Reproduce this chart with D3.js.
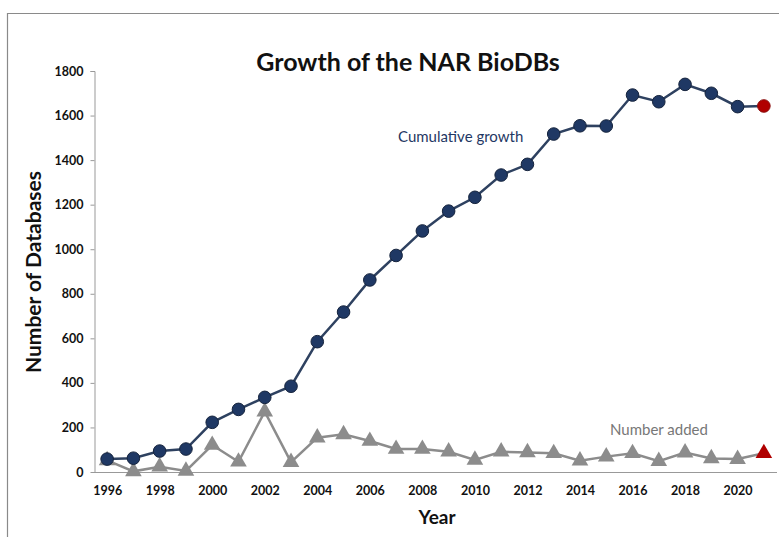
<!DOCTYPE html>
<html><head><meta charset="utf-8">
<script src="https://cdn.jsdelivr.net/npm/d3@7"></script>
<style>body{margin:0;background:#fff;} svg{display:block;}</style>
</head><body>
<svg id="c" width="779" height="537"></svg>
<script>
const years = [1996,1997,1998,1999,2000,2001,2002,2003,2004,2005,2006,2007,2008,2009,2010,2011,2012,2013,2014,2015,2016,2017,2018,2019,2020,2021];
const cumulative = [58,62,94,103,223,281,335,385,585,718,862,972,1082,1171,1233,1333,1381,1517,1554,1553,1692,1662,1740,1700,1640,1643];
const added = [52,3,24,5,121,46,271,44,154,169,139,103,103,91,54,91,88,84,51,69,84,49,87,61,58,84];
const yTicks = [0,200,400,600,800,1000,1200,1400,1600,1800];
const xTickYears = [1996,1998,2000,2002,2004,2006,2008,2010,2012,2014,2016,2018,2020];

const svg = d3.select('#c');
const navy = '#1f3864', gray = '#8c8c8c', red = '#b00000';
const font = 'Lato, "Open Sans", sans-serif';

// frame
svg.append('path').attr('d','M7.5,537 V13.5 H779').attr('fill','none').attr('stroke','#8a8a8a').attr('stroke-width',1.2);

const x = d3.scalePoint().domain(years).range([94,777]).padding(0.5);
const y = d3.scaleLinear().domain([0,1800]).range([472,71]);

// y axis
const ya = svg.append('g').attr('transform','translate(94.5,0)')
  .call(d3.axisLeft(y).tickValues(yTicks).tickSize(4).tickPadding(7).tickFormat(d3.format('d')));
ya.select('.domain').attr('stroke','#999').attr('d','M-4,71.5H0.5V472.5');
ya.selectAll('.tick line').attr('stroke','#999');
ya.selectAll('.tick text').attr('font-family',font).attr('font-weight','bold').attr('font-size',12.5).attr('fill','#111');

// x axis
const xa = svg.append('g').attr('transform','translate(0,472.5)')
  .call(d3.axisBottom(x).tickValues(xTickYears).tickSize(0).tickPadding(14));
xa.select('.domain').attr('stroke','#999').attr('d','M94,0H777');
xa.selectAll('.tick text').attr('font-family',font).attr('font-weight','bold').attr('font-size',12.5).attr('fill','#111');

// number added line
svg.append('path').datum(added)
  .attr('d', d3.line().x((d,i)=>x(years[i])).y(d=>y(d)))
  .attr('fill','none').attr('stroke',gray).attr('stroke-width',2.5);
svg.selectAll('.tri').data(added).enter().append('path')
  .attr('d', d3.symbol(d3.symbolTriangle, 120))
  .attr('transform',(d,i)=>`translate(${x(years[i])},${y(d)})`)
  .attr('fill',(d,i)=> i===years.length-1 ? red : gray);

// cumulative line
svg.append('path').datum(cumulative)
  .attr('d', d3.line().x((d,i)=>x(years[i])).y(d=>y(d)))
  .attr('fill','none').attr('stroke','#2e4160').attr('stroke-width',2.5);
svg.selectAll('.dot').data(cumulative).enter().append('circle')
  .attr('cx',(d,i)=>x(years[i])).attr('cy',d=>y(d)).attr('r',6.3)
  .attr('fill',(d,i)=> i===years.length-1 ? red : navy)
  .attr('stroke',(d,i)=> i===years.length-1 ? '#8a1010' : '#16243d').attr('stroke-width',1);

// labels
svg.append('text').attr('x',408).attr('y',71).attr('text-anchor','middle')
  .attr('font-family',font).attr('font-weight','bold').attr('font-size',25).attr('fill','#111')
  .text('Growth of the NAR BioDBs');
svg.append('text').attr('transform','translate(41,272) rotate(-90)').attr('text-anchor','middle')
  .attr('font-family',font).attr('font-weight','bold').attr('font-size',21).attr('fill','#111')
  .text('Number of Databases');
svg.append('text').attr('x',437).attr('y',524).attr('text-anchor','middle')
  .attr('font-family',font).attr('font-weight','bold').attr('font-size',19).attr('fill','#111')
  .text('Year');
svg.append('text').attr('x',398).attr('y',142)
  .attr('font-family',font).attr('font-size',15).attr('fill',navy)
  .text('Cumulative growth');
svg.append('text').attr('x',610).attr('y',435)
  .attr('font-family',font).attr('font-size',15).attr('fill','#777')
  .text('Number added');
</script>
</body></html>
